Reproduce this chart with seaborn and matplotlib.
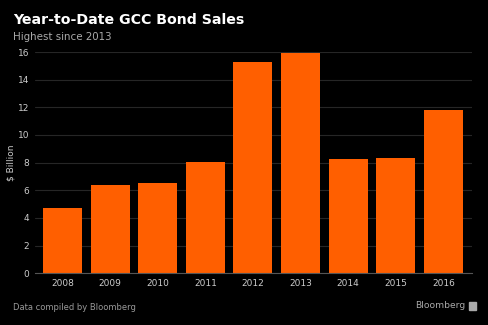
import matplotlib
matplotlib.use("Agg")
import matplotlib.pyplot as plt
import matplotlib.patches as mpatches
import seaborn as sns
import pandas as pd

years = ["2008", "2009", "2010", "2011", "2012", "2013", "2014", "2015", "2016"]
sales = [4.70, 6.41, 6.55, 8.05, 15.30, 15.90, 8.26, 8.31, 11.78]
yticks = [0, 2, 4, 6, 8, 10, 12, 14, 16]

df = pd.DataFrame({"year": years, "sales": sales})

sns.set_style("dark")
plt.rcParams["font.family"] = ["DejaVu Sans"]

fig = plt.figure(figsize=(4.88, 3.25), dpi=100, facecolor="black")
ax = fig.add_axes([0.0717, 0.159, 0.8953, 0.681])
ax.set_facecolor("black")

sns.barplot(data=df, x="year", y="sales", color="#ff5f00", saturation=1,
            width=0.82, ax=ax, zorder=3, linewidth=0, edgecolor="none")

ax.set_xlim(-0.58, 8.6)
ax.set_ylim(0, 16)
ax.set_yticks(yticks)
ax.set_yticklabels([str(t) for t in yticks])
ax.grid(axis="y", color="#262626", linewidth=0.8, zorder=0)
ax.grid(axis="x", visible=False)
for s in ["top", "right", "left"]:
    ax.spines[s].set_visible(False)
ax.spines["bottom"].set_color("#555555")
ax.spines["bottom"].set_linewidth(0.8)
ax.spines["bottom"].set_zorder(4)
ax.tick_params(axis="both", colors="#cccccc", labelsize=6.5, length=0, pad=4)
ax.set_xlabel("")
ax.set_ylabel("$ Billion", color="#cccccc", fontsize=6.5, labelpad=2)

fig.text(13/488, 1 - 20/325, "Year-to-Date GCC Bond Sales", color="white",
         fontsize=10.2, fontweight="bold", va="center", ha="left")
fig.text(13/488, 1 - 37/325, "Highest since 2013", color="#aaaaaa",
         fontsize=7.4, va="center", ha="left")
fig.text(13/488, 1 - 307/325, "Data compiled by Bloomberg", color="#999999",
         fontsize=6, va="center", ha="left")
fig.text(465/488, 1 - 306/325, "Bloomberg", color="#aaaaaa",
         fontsize=6.6, va="center", ha="right")
fig.patches.append(mpatches.Rectangle((469/488, 1 - 310/325), 7/488, 8/325,
                                      transform=fig.transFigure, color="#aaaaaa"))

fig.savefig("out.png", dpi=100, facecolor="black")
